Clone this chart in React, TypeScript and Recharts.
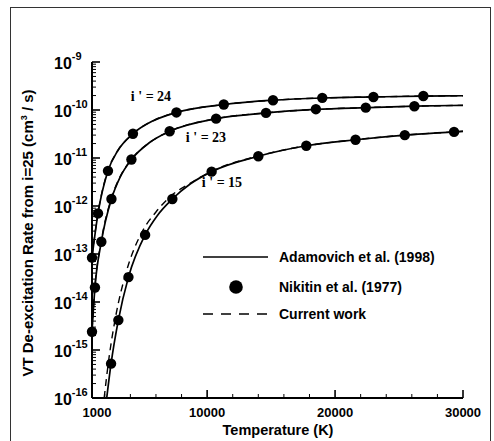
import React from 'react';
import { ComposedChart, Line, Scatter, XAxis, YAxis } from 'recharts';

const FONT = '"Liberation Sans", Arial, Helvetica, sans-serif';
const SERIF = '"Liberation Serif", "Times New Roman", serif';

// Adamovich et al. (1998) rate curves, T in K, k in cm^3/s
const adamT24 = [1000, 1470, 2250, 3000, 4200, 5800, 7600, 11300, 15150, 19000, 23000, 26900, 30000];
const adamK24 = [8.4e-14, 7.0e-13, 5.4e-12, 1.4e-11, 3.2e-11, 6.0e-11, 8.9e-11, 1.3e-10, 1.6e-10, 1.78e-10, 1.87e-10, 1.95e-10, 1.98e-10];

const adamT23 = [1000, 1230, 1730, 2520, 3200, 4080, 5500, 7070, 10700, 14600, 18500, 22400, 26200, 30000];
const adamK23 = [2.4e-15, 2.0e-14, 1.8e-13, 1.4e-12, 4.0e-12, 9.3e-12, 2.1e-11, 3.6e-11, 6.6e-11, 8.7e-11, 1.03e-10, 1.12e-10, 1.2e-10, 1.25e-10];

const adamT15 = [2150, 2490, 3060, 3850, 5150, 6100, 7280, 8700, 10350, 14000, 17750, 21600, 25450, 29300, 30000];
const adamK15 = [1e-16, 5.2e-16, 4.2e-15, 3.3e-14, 2.5e-13, 6.3e-13, 1.4e-12, 2.9e-12, 5.2e-12, 1.09e-11, 1.8e-11, 2.4e-11, 3.0e-11, 3.5e-11, 3.6e-11];

// Nikitin et al. (1977) points
const nikT24 = [1000, 1470, 2250, 4200, 7600, 11300, 15150, 19000, 23000, 26900];
const nikK24 = [8.4e-14, 7.0e-13, 5.4e-12, 3.2e-11, 8.9e-11, 1.3e-10, 1.6e-10, 1.79e-10, 1.87e-10, 1.96e-10];

const nikT23 = [1000, 1230, 1730, 2520, 4080, 7070, 10700, 14600, 18500, 22400, 26200];
const nikK23 = [2.4e-15, 2.0e-14, 1.8e-13, 1.4e-12, 9.3e-12, 3.6e-11, 6.6e-11, 8.7e-11, 1.04e-10, 1.12e-10, 1.2e-10];

const nikT15 = [2490, 3060, 3850, 5150, 7280, 10350, 14000, 17750, 21600, 25450, 29300];
const nikK15 = [5.2e-16, 4.2e-15, 3.3e-14, 2.5e-13, 1.4e-12, 5.2e-12, 1.09e-11, 1.8e-11, 2.4e-11, 3.0e-11, 3.5e-11];

// current work (dashed)
const curT24 = [1000, 1470, 2250, 3000, 4200, 5800, 7600, 11300, 15150, 19000, 23000, 26900, 30000];
const curK24 = [9.0e-14, 7.2e-13, 5.5e-12, 1.4e-11, 3.2e-11, 6.0e-11, 8.9e-11, 1.3e-10, 1.6e-10, 1.78e-10, 1.87e-10, 1.95e-10, 1.98e-10];

const curT23 = [1000, 1230, 1730, 2520, 3200, 4080, 5500, 7070, 10700, 14600, 18500, 22400, 26200, 30000];
const curK23 = [2.6e-15, 2.1e-14, 1.9e-13, 1.45e-12, 4.1e-12, 9.4e-12, 2.1e-11, 3.6e-11, 6.6e-11, 8.7e-11, 1.03e-10, 1.12e-10, 1.2e-10, 1.25e-10];

const curT15 = [1950, 2300, 2850, 3650, 4950, 6000, 7150, 8700, 10350, 14000, 17750, 21600, 25450, 29300, 30000];
const curK15 = [1e-16, 6.0e-16, 5.0e-15, 4.0e-14, 3.0e-13, 7.5e-13, 1.6e-12, 3.0e-12, 5.3e-12, 1.1e-11, 1.8e-11, 2.4e-11, 3.0e-11, 3.5e-11, 3.6e-11];

const xMajor = [1000, 10000, 20000, 30000];
const xMinor = [2000, 4000, 6000, 8000, 12000, 14000, 16000, 18000, 22000, 24000, 26000, 28000];
const yDecades = [-16, -15, -14, -13, -12, -11, -10, -9];

const pts = (T: number[], K: number[]) => T.map((t, i) => ({ T: t, k: K[i] }));

const yTicks: number[] = [];
yDecades.forEach((d) => {
  yTicks.push(Math.pow(10, d));
  if (d < -9) for (let m = 2; m <= 9; m++) yTicks.push(m * Math.pow(10, d));
});

const TICK_OFF = 8; // tickSize + tickMargin

const YTick = (props: any) => {
  const { x, y, payload } = props;
  const v = payload.value as number;
  const lg = Math.log10(v);
  const exp = Math.round(lg);
  const major = Math.abs(lg - exp) < 1e-6;
  const ax = x + TICK_OFF;
  return (
    <g>
      <line x1={ax} x2={ax + (major ? 8 : 4)} y1={y} y2={y} stroke="#000" strokeWidth={major ? 1.6 : 1} />
      {major && (
        <text x={54} y={y + 6.5} fontFamily={FONT} fontWeight="bold" fontSize={16} fill="#000">
          10
          <tspan dy={-8.5} fontSize={11}>{`-${Math.abs(exp)}`}</tspan>
        </text>
      )}
    </g>
  );
};

const XTick = (props: any) => {
  const { x, y, payload } = props;
  const v = payload.value as number;
  const major = xMajor.includes(v);
  const ay = y - TICK_OFF;
  return (
    <g>
      <line x1={x} x2={x} y1={ay} y2={ay - (major ? 8 : 4)} stroke="#000" strokeWidth={major ? 1.6 : 1} />
      {major && (
        <text x={v === 1000 ? x + 5 : x} y={ay + 19} textAnchor="middle" fontFamily={FONT} fontWeight="bold" fontSize={13} fill="#000">
          {v}
        </text>
      )}
    </g>
  );
};

const Dot = (props: any) => <circle cx={props.cx} cy={props.cy} r={5.2} fill="#000" />;

const line = (key: string, T: number[], K: number[], dashed: boolean) => (
  <Line
    key={key}
    data={pts(T, K)}
    dataKey="k"
    type="monotone"
    stroke="#000"
    strokeWidth={dashed ? 1.4 : 1.7}
    strokeDasharray={dashed ? '7 5' : undefined}
    dot={false}
    activeDot={false}
    isAnimationActive={false}
  />
);

export default function App() {
  return (
    <div style={{ position: 'fixed', left: 0, top: 0, width: 494, height: 441, overflow: 'hidden', background: '#fff' }}>
      <div style={{ position: 'absolute', left: 10, top: 7, width: 479, height: 445, border: '1.5px solid #333' }} />
      <div style={{ position: 'absolute', left: 0, top: 0 }}>
        <ComposedChart width={494} height={441} margin={{ top: 62, right: 31, bottom: 0, left: 0 }}>
          <XAxis
            dataKey="T"
            type="number"
            domain={[1000, 30000]}
            ticks={[...xMajor, ...xMinor]}
            tick={<XTick />}
            tickLine={false}
            tickSize={8}
            tickMargin={0}
            height={43}
            axisLine={{ stroke: '#000', strokeWidth: 2 }}
            interval={0}
          />
          <YAxis
            dataKey="k"
            type="number"
            scale="log"
            domain={[1e-16, 1e-9]}
            ticks={yTicks}
            tick={<YTick />}
            tickLine={false}
            tickSize={8}
            tickMargin={0}
            width={92}
            axisLine={{ stroke: '#000', strokeWidth: 2 }}
            interval={0}
          />
          {line('a24', adamT24, adamK24, false)}
          {line('a23', adamT23, adamK23, false)}
          {line('a15', adamT15, adamK15, false)}
          {line('c24', curT24, curK24, true)}
          {line('c23', curT23, curK23, true)}
          {line('c15', curT15, curK15, true)}
          <Scatter data={pts(nikT24, nikK24)} shape={<Dot />} isAnimationActive={false} />
          <Scatter data={pts(nikT23, nikK23)} shape={<Dot />} isAnimationActive={false} />
          <Scatter data={pts(nikT15, nikK15)} shape={<Dot />} isAnimationActive={false} />
        </ComposedChart>
      </div>
      <svg width={494} height={441} style={{ position: 'absolute', left: 0, top: 0, pointerEvents: 'none' }}>
        {/* axis titles */}
        <text transform="translate(33,233) rotate(-90)" textAnchor="middle" fontFamily={FONT} fontWeight="bold" fontSize={15} fill="#000">
          VT De-excitation Rate from i=25 (cm
          <tspan dy={-6} fontSize={9}>3</tspan>
          <tspan dy={6}> / s)</tspan>
        </text>
        <text x={278} y={435} textAnchor="middle" fontFamily={FONT} fontWeight="bold" fontSize={14.5} fill="#000">
          Temperature (K)
        </text>

        {/* curve labels */}
        <text x={151} y={101} textAnchor="middle" fontFamily={SERIF} fontWeight="bold" fontSize={14} fill="#000">i ' = 24</text>
        <text x={206} y={142} textAnchor="middle" fontFamily={SERIF} fontWeight="bold" fontSize={14} fill="#000">i ' = 23</text>
        <text x={222} y={187} textAnchor="middle" fontFamily={SERIF} fontWeight="bold" fontSize={14} fill="#000">i ' = 15</text>

        {/* legend */}
        <line x1={203} x2={268} y1={257} y2={257} stroke="#000" strokeWidth={1.7} />
        <text x={279} y={262} fontFamily={FONT} fontWeight="bold" fontSize={14} fill="#000">Adamovich et al. (1998)</text>
        <circle cx={236} cy={287} r={6.8} fill="#000" />
        <text x={279} y={292} fontFamily={FONT} fontWeight="bold" fontSize={14} fill="#000">Nikitin et al. (1977)</text>
        <line x1={203} x2={268} y1={314} y2={314} stroke="#000" strokeWidth={1.5} strokeDasharray="10 8" />
        <text x={279} y={319} fontFamily={FONT} fontWeight="bold" fontSize={14} fill="#000">Current work</text>
      </svg>
    </div>
  );
}
